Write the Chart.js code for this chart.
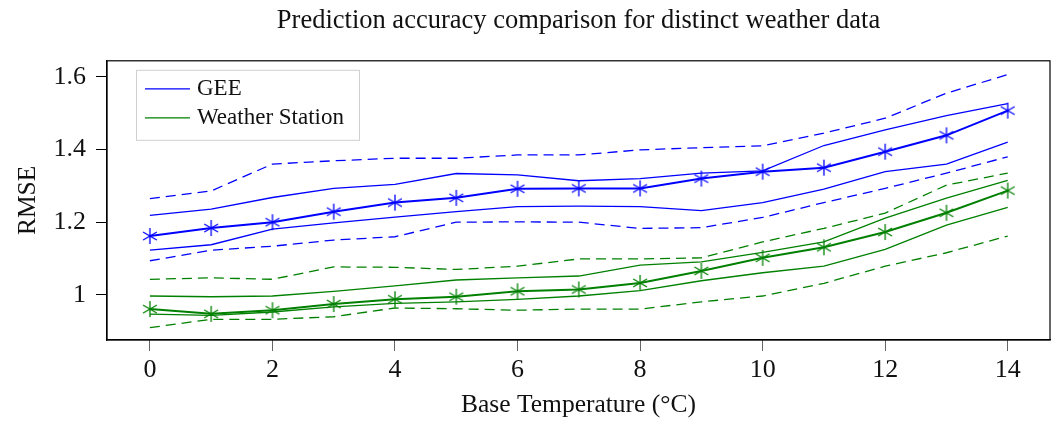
<!DOCTYPE html>
<html lang="en">
<head>
    <meta charset="UTF-8">
    <title>Prediction accuracy comparison</title>
    <script src="https://cdn.jsdelivr.net/npm/chart.js"></script>
    <style>
        body {
            margin: 0;
            background-color: #fff;
        }
        #chart {
            display: block;
        }
    </style>
</head>
<body>
    <canvas id="chart" width="1054" height="423"></canvas>

    <script>
        // values
        const temps = [0, 1, 2, 3, 4, 5, 6, 7, 8, 9, 10, 11, 12, 13, 14];

        const geeMean      = [1.162, 1.184, 1.200, 1.229, 1.254, 1.267, 1.292, 1.293, 1.293, 1.320, 1.339, 1.350, 1.394, 1.439, 1.507];
        const geeUpper     = [1.219, 1.236, 1.268, 1.293, 1.304, 1.334, 1.330, 1.314, 1.320, 1.335, 1.341, 1.411, 1.454, 1.493, 1.526];
        const geeLower     = [1.123, 1.138, 1.181, 1.198, 1.214, 1.229, 1.243, 1.244, 1.243, 1.232, 1.254, 1.291, 1.339, 1.360, 1.420];
        const geeUpperDash = [1.265, 1.286, 1.360, 1.369, 1.376, 1.376, 1.385, 1.385, 1.399, 1.405, 1.410, 1.445, 1.486, 1.555, 1.606];
        const geeLowerDash = [1.094, 1.123, 1.134, 1.151, 1.160, 1.200, 1.201, 1.200, 1.183, 1.185, 1.213, 1.254, 1.293, 1.335, 1.380];

        const wsMean      = [0.961, 0.948, 0.958, 0.975, 0.988, 0.995, 1.010, 1.015, 1.033, 1.066, 1.102, 1.131, 1.173, 1.226, 1.287];
        const wsUpper     = [0.997, 0.995, 0.997, 1.010, 1.025, 1.041, 1.047, 1.052, 1.082, 1.091, 1.117, 1.146, 1.211, 1.266, 1.315];
        const wsLower     = [0.947, 0.944, 0.953, 0.967, 0.977, 0.981, 0.988, 0.997, 1.012, 1.039, 1.061, 1.079, 1.125, 1.192, 1.241];
        const wsUpperDash = [1.043, 1.047, 1.043, 1.077, 1.076, 1.070, 1.079, 1.099, 1.099, 1.102, 1.146, 1.183, 1.225, 1.302, 1.335];
        const wsLowerDash = [0.910, 0.933, 0.933, 0.940, 0.964, 0.962, 0.958, 0.961, 0.961, 0.981, 0.997, 1.032, 1.079, 1.116, 1.162];

        const xTicks = [0, 2, 4, 6, 8, 10, 12, 14];
        const yTicks = [1, 1.2, 1.4, 1.6];
        const legendItems = ['GEE', 'Weather Station'];

        const BLUE = 'rgb(0, 0, 255)';
        const GREEN = 'rgb(0, 128, 0)';
        const FONT = "'Liberation Serif', 'DejaVu Serif', serif";

        // asterisk marker like the pgfplots one (vertical bar + two slanted bars)
        function makeAsterisk(color) {
            const c = document.createElement('canvas');
            c.width = 18;
            c.height = 18;
            const g = c.getContext('2d');
            const dx = 8 * Math.cos(Math.PI / 6);
            const dy = 8 * Math.sin(Math.PI / 6);
            g.strokeStyle = color;
            g.lineWidth = 1.3;
            g.beginPath();
            g.moveTo(9, 1); g.lineTo(9, 17);
            g.moveTo(9 - dx, 9 - dy); g.lineTo(9 + dx, 9 + dy);
            g.moveTo(9 - dx, 9 + dy); g.lineTo(9 + dx, 9 - dy);
            g.stroke();
            return c;
        }

        function toPoints(values) {
            return values.map((v, i) => ({ x: temps[i], y: v }));
        }

        function meanLine(values, color) {
            return {
                data: toPoints(values),
                borderColor: color,
                borderWidth: 2,
                pointStyle: makeAsterisk(color),
                pointRadius: 8,
                tension: 0
            };
        }

        function boundLine(values, color, dashed) {
            return {
                data: toPoints(values),
                borderColor: color,
                borderWidth: 1.3,
                borderDash: dashed ? [10, 6] : [],
                pointRadius: 0,
                tension: 0
            };
        }

        const frameAndLegend = {
            id: 'frameAndLegend',
            afterDraw(chart) {
                const ctx = chart.ctx;
                const a = chart.chartArea;
                ctx.save();
                ctx.strokeStyle = '#000';
                ctx.lineWidth = 1.2;
                ctx.strokeRect(a.left, a.top, a.right - a.left, a.bottom - a.top);

                // legend box in the upper left corner
                const bx = a.left + 29, by = a.top + 9;
                ctx.fillStyle = '#fff';
                ctx.fillRect(bx, by, 223, 70);
                ctx.strokeStyle = '#d0d0d0';
                ctx.lineWidth = 1;
                ctx.strokeRect(bx + 0.5, by + 0.5, 223, 70);
                const colors = [BLUE, GREEN];
                ctx.font = '23px ' + FONT;
                ctx.textBaseline = 'middle';
                legendItems.forEach((name, i) => {
                    const y = by + 19 + i * 29;
                    ctx.strokeStyle = colors[i];
                    ctx.lineWidth = 1.3;
                    ctx.beginPath();
                    ctx.moveTo(bx + 9, y);
                    ctx.lineTo(bx + 54, y);
                    ctx.stroke();
                    ctx.fillStyle = '#111';
                    ctx.fillText(name, bx + 61, y);
                });
                ctx.restore();
            }
        };

        new Chart(document.getElementById('chart'), {
            type: 'line',
            data: {
                datasets: [
                    meanLine(geeMean, BLUE),
                    boundLine(geeUpper, BLUE, false),
                    boundLine(geeLower, BLUE, false),
                    boundLine(geeUpperDash, BLUE, true),
                    boundLine(geeLowerDash, BLUE, true),
                    meanLine(wsMean, GREEN),
                    boundLine(wsUpper, GREEN, false),
                    boundLine(wsLower, GREEN, false),
                    boundLine(wsUpperDash, GREEN, true),
                    boundLine(wsLowerDash, GREEN, true)
                ]
            },
            options: {
                responsive: false,
                animation: false,
                layout: {
                    autoPadding: false,
                    padding: { left: 0, right: 4, top: 0, bottom: 0 }
                },
                plugins: {
                    legend: { display: false },
                    tooltip: { enabled: false },
                    title: {
                        display: true,
                        fullSize: false,
                        text: 'Prediction accuracy comparison for distinct weather data',
                        color: '#111',
                        font: { family: FONT, size: 26.5, weight: 'normal' },
                        padding: { top: 5, bottom: 24 }
                    }
                },
                scales: {
                    x: {
                        type: 'linear',
                        min: -0.7,
                        max: 14.69,
                        afterBuildTicks: s => { s.ticks = xTicks.map(v => ({ value: v })); },
                        afterFit: s => {
                            s.height = 83;
                            s.paddingLeft = 0;
                            s.paddingRight = 0;
                        },
                        ticks: {
                            color: '#111',
                            padding: 4,
                            maxRotation: 0,
                            font: { family: FONT, size: 26 }
                        },
                        grid: { drawOnChartArea: false, tickLength: 11, color: '#666' },
                        border: { display: true, color: '#000', width: 1.2 },
                        title: {
                            display: true,
                            text: 'Base Temperature (°C)',
                            color: '#111',
                            font: { family: FONT, size: 25.5 },
                            padding: { top: 0, bottom: 2 }
                        }
                    },
                    y: {
                        min: 0.876,
                        max: 1.644,
                        afterBuildTicks: s => { s.ticks = yTicks.map(v => ({ value: v })); },
                        afterFit: s => { s.width = 107; },
                        ticks: {
                            color: '#111',
                            padding: 10,
                            font: { family: FONT, size: 26 },
                            callback: v => String(Number(v.toFixed(1)))
                        },
                        grid: { drawOnChartArea: false, tickLength: 11, color: '#000' },
                        border: { display: true, color: '#000', width: 1.2 },
                        title: {
                            display: true,
                            text: 'RMSE',
                            color: '#111',
                            font: { family: FONT, size: 25.5 },
                            padding: { top: 13, bottom: 0 }
                        }
                    }
                }
            },
            plugins: [frameAndLegend]
        });
    </script>
</body>
</html>
